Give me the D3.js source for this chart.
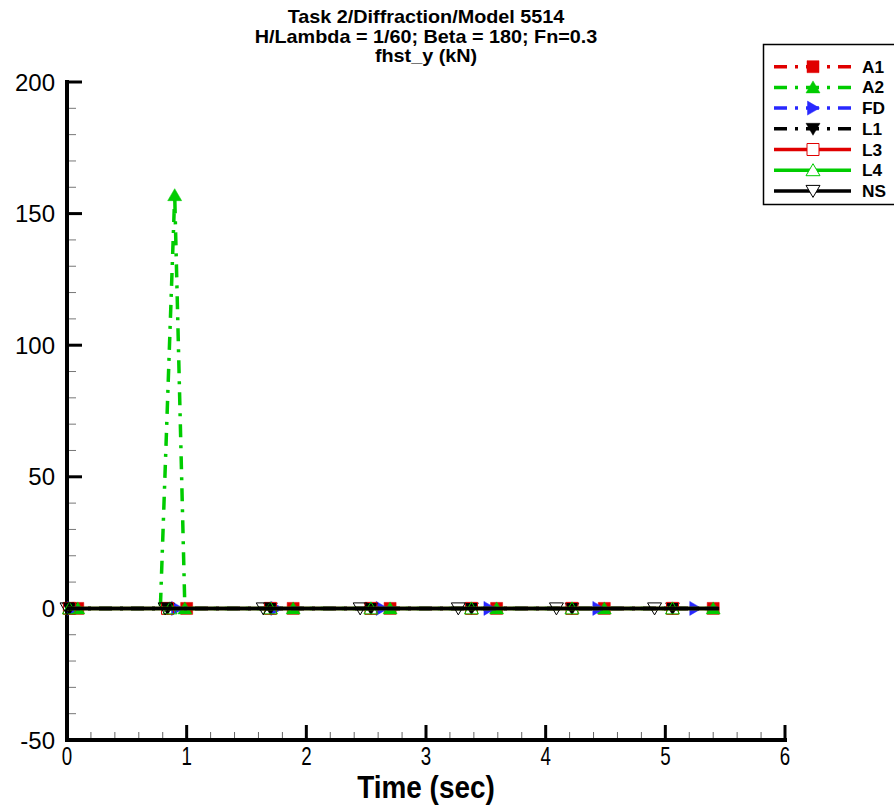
<!DOCTYPE html>
<html><head><meta charset="utf-8">
<script src="https://cdn.jsdelivr.net/npm/d3@7"></script>
<style>body{margin:0;background:#fff} svg{display:block} text{font-family:"Liberation Sans",Arial,sans-serif}</style>
</head><body><svg id="c" width="894" height="805"></svg>
<script>
// ---------- data ----------
const titleLines = ["Task 2/Diffraction/Model 5514", "H/Lambda = 1/60; Beta = 180; Fn=0.3", "fhst_y (kN)"];
const xLabel = "Time (sec)";
const xTicks = [0, 1, 2, 3, 4, 5, 6];
const yTicks = [-50, 0, 50, 100, 150, 200];
const seriesNames = ["A1", "A2", "FD", "L1", "L3", "L4", "NS"];

const A1_time   = [0, 0.09, 1.00, 1.89, 2.70, 3.59, 4.49, 5.40, 5.44];
const A1_value  = [0, 0, 0, 0, 0, 0, 0, 0, 0];
const A1_marker = [0, 1, 1, 1, 1, 1, 1, 1, 0];

const A2_time   = [0, 0.09, 0.78, 0.90, 0.985, 1.89, 2.70, 3.59, 4.49, 5.40, 5.44];
const A2_value  = [0, 0, 0, 157, 0, 0, 0, 0, 0, 0, 0];
const A2_marker = [0, 1, 0, 1, 1, 1, 1, 1, 1, 1, 0];

const FD_time   = [0, 0.05, 0.92, 1.75, 2.63, 3.53, 4.44, 5.25, 5.44];
const FD_value  = [0, 0, 0, 0, 0, 0, 0, 0, 0];
const FD_marker = [0, 1, 1, 1, 1, 1, 1, 1, 0];

const L1_time   = [0, 0.02, 0.84, 1.70, 2.54, 3.38, 4.22, 5.06, 5.44];
const L1_value  = [0, 0, 0, 0, 0, 0, 0, 0, 0];
const L1_marker = [0, 1, 1, 1, 1, 1, 1, 1, 0];

const L3_time   = [0, 0.02, 0.84, 1.70, 2.54, 3.38, 4.22, 5.06, 5.44];
const L3_value  = [0, 0, 0, 0, 0, 0, 0, 0, 0];
const L3_marker = [0, 1, 1, 1, 1, 1, 1, 1, 0];

const L4_time   = [0, 0.02, 0.86, 1.70, 2.54, 3.38, 4.22, 5.06, 5.44];
const L4_value  = [0, 0, 0, 0, 0, 0, 0, 0, 0];
const L4_marker = [0, 1, 1, 1, 1, 1, 1, 1, 0];

const NS_time   = [0, 0.82, 1.64, 2.45, 3.27, 4.09, 4.91, 5.45];
const NS_value  = [0, 0, 0, 0, 0, 0, 0, 0];
const NS_marker = [1, 1, 1, 1, 1, 1, 1, 0];

// ---------- styles ----------
const RED = "#e00000", GREEN = "#00cc00", BLUE = "#2828ff", BLACK = "#000";
const styles = {
  A1: {color: RED,   dash: "13,8,3,8", shape: "square", fill: true},
  A2: {color: GREEN, dash: "13,8,3,8", shape: "up",     fill: true},
  FD: {color: BLUE,  dash: "13,8,3,8", shape: "right",  fill: true},
  L1: {color: BLACK, dash: "13,8,3,8", shape: "down",   fill: true},
  L3: {color: RED,   dash: null,       shape: "square", fill: false},
  L4: {color: GREEN, dash: null,       shape: "up",     fill: false},
  NS: {color: BLACK, dash: null,       shape: "down",   fill: false}
};
const raw = {
  A1: [A1_time, A1_value, A1_marker], A2: [A2_time, A2_value, A2_marker],
  FD: [FD_time, FD_value, FD_marker], L1: [L1_time, L1_value, L1_marker],
  L3: [L3_time, L3_value, L3_marker], L4: [L4_time, L4_value, L4_marker],
  NS: [NS_time, NS_value, NS_marker]
};
const series = seriesNames.map(n => ({
  name: n, style: styles[n],
  pts: raw[n][0].map((t, i) => ({t, v: raw[n][1][i], m: raw[n][2][i]}))
}));

function markerPath(shape) {
  switch (shape) {
    case "square": return "M-6,-6h12v12h-12Z";
    case "up":     return "M0,-6.5L7,5.5L-7,5.5Z";
    case "down":   return "M0,6.5L7,-5.5L-7,-5.5Z";
    case "right":  return "M6.5,0L-5.5,-7L-5.5,7Z";
  }
}

// ---------- chart ----------
const svg = d3.select("#c");
const x = d3.scaleLinear().domain([0, 6]).range([67, 785]);
const y = d3.scaleLinear().domain([-50, 200]).range([740, 82]);

// title
svg.append("g").selectAll("text").data(titleLines).join("text")
  .attr("transform", (d, i) => `translate(426,${23 + i * 19.5}) scale(1.1,1)`)
  .attr("text-anchor", "middle").attr("font-size", 18).attr("font-weight", "bold")
  .text(d => d);

// axes ticks
const xMinor = d3.range(0, 6.001, 0.2).filter(v => Math.abs(v - Math.round(v)) > 1e-6);
const yMinor = d3.range(-50, 200.001, 10).filter(v => v % 50 !== 0);
const axisG = svg.append("g");
axisG.selectAll(".xm").data(xMinor).join("line")
  .attr("x1", d => x(d)).attr("x2", d => x(d)).attr("y1", y(-50)).attr("y2", y(-50) - 8)
  .attr("stroke", "#666").attr("stroke-width", 1);
axisG.selectAll(".xM").data(xTicks).join("line")
  .attr("x1", d => x(d)).attr("x2", d => x(d)).attr("y1", y(-50)).attr("y2", y(-50) - 15)
  .attr("stroke", "#000").attr("stroke-width", 3);
axisG.selectAll(".ym").data(yMinor).join("line")
  .attr("x1", x(0)).attr("x2", x(0) + 9).attr("y1", d => y(d)).attr("y2", d => y(d))
  .attr("stroke", "#777").attr("stroke-width", 1);
axisG.selectAll(".yM").data(yTicks).join("line")
  .attr("x1", x(0)).attr("x2", x(0) + 15).attr("y1", d => y(d)).attr("y2", d => y(d))
  .attr("stroke", "#000").attr("stroke-width", 3);
axisG.append("path")
  .attr("d", `M${x(0)},${y(200)}V${y(-50)}H${x(6)}`)
  .attr("fill", "none").attr("stroke", "#000").attr("stroke-width", 4).attr("stroke-linecap", "square");

// tick labels
svg.append("g").selectAll("text").data(yTicks).join("text")
  .attr("x", 55).attr("y", d => y(d) + 8.5).attr("text-anchor", "end")
  .attr("font-size", 24).text(d => d);
svg.append("g").selectAll("text").data(xTicks).join("text")
  .attr("transform", d => `translate(${x(d)},765) scale(0.72,1)`)
  .attr("text-anchor", "middle").attr("font-size", 26).text(d => d);
svg.append("text")
  .attr("transform", `translate(${(x(0) + x(6)) / 2},798) scale(0.9,1)`)
  .attr("text-anchor", "middle").attr("font-size", 31).attr("font-weight", "bold")
  .text(xLabel);

// series
const line = d3.line().x(d => x(d.t)).y(d => y(d.v));
const plotG = svg.append("g");
series.forEach(s => {
  const g = plotG.append("g");
  g.append("path").datum(s.pts).attr("d", line)
    .attr("fill", "none").attr("stroke", s.style.color).attr("stroke-width", 3.5)
    .attr("stroke-dasharray", s.style.dash);
  g.selectAll("path.mk").data(s.pts.filter(p => p.m)).join("path").attr("class", "mk")
    .attr("transform", p => `translate(${x(p.t)},${y(p.v)})`)
    .attr("d", markerPath(s.style.shape))
    .attr("fill", s.style.fill ? s.style.color : "none")
    .attr("stroke", s.style.color).attr("stroke-width", s.style.fill ? 0.5 : 1);
});

// legend
const lg = svg.append("g");
const rowY = i => 66.7 + i * 20.7;
lg.append("rect").attr("x", 763.5).attr("y", 44.5).attr("width", 140).attr("height", 160)
  .attr("fill", "#fff").attr("stroke", "#000").attr("stroke-width", 1.5);
seriesNames.forEach((n, i) => {
  const st = styles[n], yy = rowY(i);
  lg.append("line").attr("x1", 774).attr("x2", 851).attr("y1", yy).attr("y2", yy)
    .attr("stroke", st.color).attr("stroke-width", 3.5).attr("stroke-dasharray", st.dash);
  lg.append("path").attr("transform", `translate(813,${yy})`).attr("d", markerPath(st.shape))
    .attr("fill", st.fill ? st.color : "#fff").attr("stroke", st.color).attr("stroke-width", st.fill ? 0.5 : 1);
  lg.append("text").attr("transform", `translate(862,${yy + 6}) scale(1.08,1)`)
    .attr("font-size", 16).attr("font-weight", "bold").text(n);
});
</script></body></html>
